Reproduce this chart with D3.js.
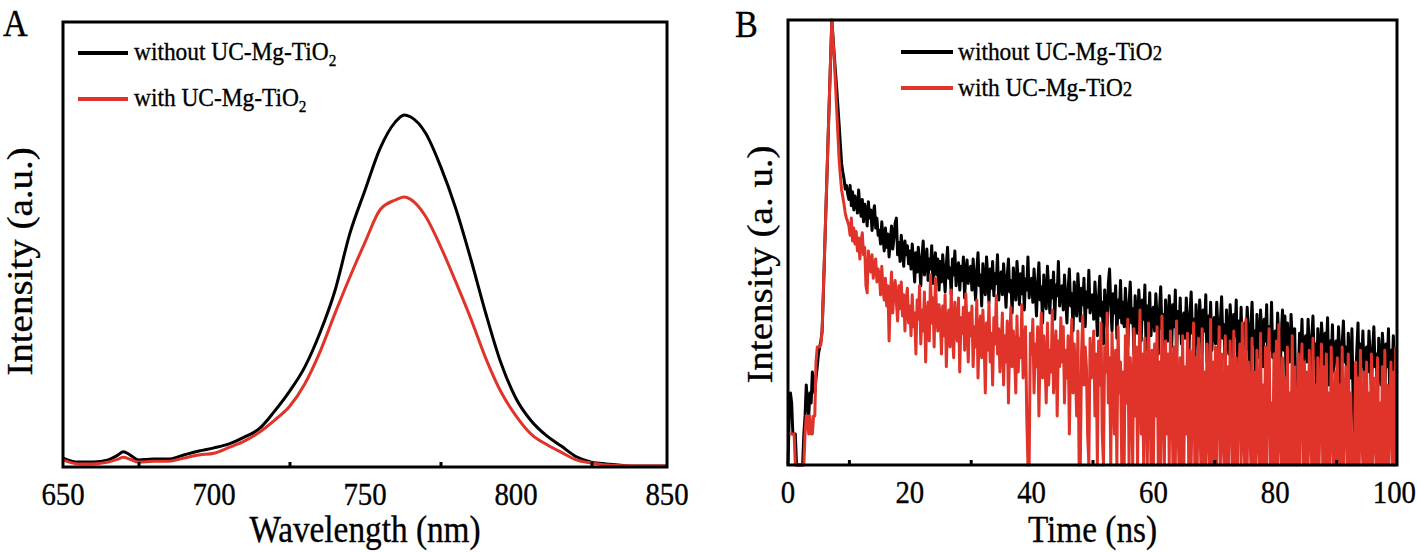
<!DOCTYPE html>
<html><head><meta charset="utf-8">
<script src="https://cdn.jsdelivr.net/npm/d3@7"></script>
<style>
body{margin:0;background:#fff}
svg{display:block}
text{font-family:"Liberation Serif","Times New Roman",serif;fill:#000;stroke:#000;stroke-width:0.35px}
</style>
</head><body>
<svg id="c" width="1417" height="552"></svg>
<script>
// ---------- Panel A data (PL spectra) ----------
const wavelength = [650,655,660,665,668,670,672,675,680,685,690,695,700,705,710,715,720,725,730,735,740,745,750,755,760,763,765,770,775,780,785,790,795,800,805,810,815,820,825,830,840,850];
const plWithout = [2.0,1.1,1.1,1.6,2.6,3.4,2.8,1.6,1.8,1.8,2.7,3.6,4.3,5.2,6.7,8.6,12.5,17.0,22.4,30.0,39.5,52.5,62.2,71.6,77.5,79.1,78.7,75.1,67.6,58.2,46.8,34.5,23.4,15.4,10.4,7.1,4.7,2.3,1.1,0.7,0.2,0.2];
const plWith = [1.6,0.7,0.7,1.1,1.7,2.2,1.8,1.1,1.3,1.3,2.0,2.7,3.1,4.4,5.8,7.8,10.5,13.6,18.6,25.7,34.4,42.7,50.5,57.8,60.0,60.7,60.2,56.4,49.6,41.7,33.4,24.4,16.9,11.5,7.4,5.1,3.3,1.6,0.9,0.45,0.2,0.2];
const xTicksA = [650,700,750,800,850];
const xMinorA = [675,725,775,825];

// ---------- Panel B data (decay counts, 0.2 ns channels from 0 ns; one row = 5 ns) ----------
const decayWithout = [
1,3,5,4,2,2,2,1,1,1,1,1,1,2,3,6,4,3,5,4,8,6,5,7,9,
12,14,16,20,45,110,270,650,1600,3800,9000,21000,14000,9500,6500,4500,3000,2000,1300,850,700,600,480,520,430,
380,520,330,450,300,410,360,280,470,320,260,380,230,340,290,210,360,250,300,190,280,330,200,250,170,
190,140,230,160,120,200,130,175,105,150,210,125,160,225,250,110,145,95,170,120,85,150,110,135,90,
120,80,140,95,60,115,75,130,88,55,105,150,70,95,125,62,100,80,135,58,90,115,70,100,50,
95,60,110,75,48,88,130,65,82,45,100,70,120,55,78,92,50,85,62,105,42,75,98,58,80,
85,50,100,62,40,78,115,55,70,35,90,60,45,105,68,38,80,52,95,44,72,58,110,40,66,
75,45,90,58,34,68,100,48,62,30,82,54,40,95,60,36,72,46,85,32,64,50,105,42,58,
65,38,80,50,28,58,92,40,54,24,70,45,33,85,52,30,62,42,75,26,56,44,95,35,50,
55,32,70,42,24,50,80,35,46,20,60,38,28,72,44,25,52,36,65,22,48,34,78,30,42,
45,26,60,35,18,42,68,28,38,15,50,31,22,58,80,36,20,46,30,55,17,40,27,62,24,
38,22,52,30,14,36,60,24,33,12,44,27,19,50,32,16,40,26,56,13,35,23,47,18,30,
34,20,46,27,12,32,54,21,29,10,40,24,16,44,28,14,36,22,50,11,31,19,42,15,26,
30,17,42,24,10,28,48,19,26,9,36,21,14,40,25,12,32,20,45,10,28,17,38,13,23,
27,15,38,21,9,25,43,17,23,8,32,19,12,36,22,10,29,18,40,9,25,15,34,12,21,
24,13,34,19,8,22,38,15,20,7,29,17,11,32,19,9,26,16,36,8,22,13,38,11,19,
20,11,30,16,7,19,32,13,28,6,24,15,10,29,17,8,21,4,2,7,19,12,26,9,16,
18,10,26,14,6,17,28,11,15,5,21,13,8,24,15,7,19,12,27,6,16,10,23,8,14,
16,9,22,12,5,15,25,10,14,5,19,11,7,21,4,2,6,13,24,6,15,9,20,7,13,
14,8,20,11,5,13,22,9,12,4,17,10,6,19,12,5,15,9,21,5,13,8,18,7,12];
const decayWith = [
2,2,2,2,2,2,1,1,1,1,1,1,1,1,2,3,3,2,3,2,2,3,3,10,14,
14,14,15,20,48,115,280,660,1600,3850,9000,21000,13500,8600,5000,2800,1600,920,640,470,400,340,280,250,230,
210,170,250,150,200,140,185,120,160,100,150,180,110,130,55,47,120,90,75,110,65,85,100,60,80,
70,45,85,50,40,65,35,55,16,42,75,30,50,62,38,25,55,33,60,28,45,20,40,52,24,
35,18,45,22,30,12,40,26,55,15,32,20,48,10,28,38,16,70,24,42,14,65,30,20,36,
28,12,35,18,45,9,25,32,14,50,20,11,38,24,16,42,8,27,19,34,13,46,22,10,30,
18,35,9,22,14,40,7,20,28,11,32,16,5,24,13,38,10,19,6,27,15,44,12,21,8,
14,30,6,18,10,25,4,16,34,9,20,12,5,28,8,17,11,36,7,15,22,3,1,1,19,
12,26,5,15,9,22,3,14,30,7,18,10,4,24,6,13,8,32,5,11,20,3,16,9,27,
10,22,4,13,7,18,2,11,26,5,15,8,3,20,1,1,12,28,6,14,9,2,1,17,7,
9,20,3,12,1,16,6,24,2,1,14,8,30,4,11,1,19,7,2,13,1,22,5,10,1,
8,1,18,4,26,1,11,6,1,21,3,14,1,9,32,2,12,1,17,5,1,24,7,1,13,
1,15,3,22,1,10,1,28,5,1,16,2,12,1,20,7,1,14,1,25,3,1,11,1,18,
1,9,2,19,1,13,1,6,24,1,11,1,17,3,1,21,1,8,1,15,2,1,26,1,10,
1,14,1,7,22,1,12,2,1,18,1,9,1,16,4,1,20,1,11,1,6,15,1,24,2,
1,26,1,10,3,1,17,1,8,1,13,2,1,19,1,6,1,14,1,9,21,1,4,1,12,
1,16,1,23,2,1,11,1,7,1,14,1,5,1,18,1,9,1,1,12,1,6,15,1,10,
1,8,1,13,2,1,17,1,6,1,11,1,4,15,1,9,1,12,1,5,1,14,2,1,8,
1,11,1,6,1,14,1,3,9,1,12,1,5,1,2,1,10,1,7,1,13,2,1,8,1,
10,1,5,1,12,1,7,2,1,11,1,4,1,9,1,13,1,6,1,3,10,1,8,1,14];
const channelWidth = 0.2;
const xTicksB = [0,20,40,60,80,100];
const xMinorB = [10,30,50,70,90];

const RED = "#e0332a";
const SX = 0.9; // horizontal glyph compression seen in the reference

const svg = d3.select("#c");

function txt(x, y, s, size, anchor, rot) {
  const t = svg.append("text")
    .attr("transform", `translate(${x},${y}) scale(${SX},1)` + (rot ? " rotate(-90)" : ""))
    .attr("font-size", size)
    .attr("text-anchor", anchor || "start");
  return t.text(s);
}

function frame(x0, y0, x1, y1) {
  svg.append("rect").attr("x", x0).attr("y", y0)
    .attr("width", x1 - x0).attr("height", y1 - y0)
    .attr("fill", "none").attr("stroke", "#000").attr("stroke-width", 3);
}

function xAxis(scale, y, majors, minors, maxX) {
  const g = svg.append("g").attr("transform", `translate(0,${y})`);
  g.call(d3.axisBottom(scale).tickValues(majors).tickSize(-9).tickFormat(""));
  g.call(d3.axisBottom(scale).tickValues(minors).tickSize(-5).tickFormat(""));
  g.selectAll(".domain").remove();
  g.selectAll("line").attr("stroke", "#000").attr("stroke-width", 3);
  majors.forEach(v => {
    const s = String(v);
    const half = s.length * 0.5 * 32 * SX / 2;
    const cx = Math.min(scale(v), maxX - half);
    txt(cx, y + 38, s, 32, "middle");
  });
}

// ---------- Panel A ----------
const A = {l: 63, r: 667, t: 22, b: 467};
const xA = d3.scaleLinear().domain([650, 850]).range([A.l, A.r]);
const yA = d3.scaleLinear().domain([0, 100]).range([A.b, A.t]);
const lineA = d3.line().x((d, i) => xA(wavelength[i])).y(d => yA(d)).curve(d3.curveMonotoneX);

svg.append("path").attr("d", lineA(plWithout)).attr("fill", "none")
  .attr("stroke", "#000").attr("stroke-width", 3).attr("stroke-linejoin", "round");
svg.append("path").attr("d", lineA(plWith)).attr("fill", "none")
  .attr("stroke", RED).attr("stroke-width", 3).attr("stroke-linejoin", "round");
frame(A.l, A.t, A.r, A.b);
xAxis(xA, A.b, xTicksA, xMinorA, 1416);
txt((A.l + A.r) / 2, 542, "Wavelength (nm)", 37, "middle");
txt(32, (A.t + A.b) / 2 + 17, "Intensity (a.u.)", 39, "middle", true);
txt(3, 36, "A", 38);

// legend A
[[53, "#000", "without UC-Mg-TiO"], [99, RED, "with UC-Mg-TiO"]].forEach(([y, c, s]) => {
  svg.append("line").attr("x1", 78).attr("x2", 128).attr("y1", y).attr("y2", y)
    .attr("stroke", c).attr("stroke-width", 4);
  const t = txt(134, y + 7, s, 26);
  t.append("tspan").attr("font-size", 17).attr("dy", 6).text("2");
});

// ---------- Panel B ----------
const B = {l: 788, r: 1397, t: 20, b: 465};
const xB = d3.scaleLinear().domain([0, 100]).range([B.l, B.r]);
const yB = d3.scaleLog().domain([1, 21000]).range([B.b, B.t]).clamp(true);
const lineB = d3.line().x((d, i) => xB(i * channelWidth)).y(d => yB(d));

svg.append("path").attr("d", lineB(decayWithout)).attr("fill", "none")
  .attr("stroke", "#000").attr("stroke-width", 3).attr("stroke-linejoin", "round");
svg.append("path").attr("d", lineB(decayWith)).attr("fill", "none")
  .attr("stroke", RED).attr("stroke-width", 3).attr("stroke-linejoin", "round");
frame(B.l, B.t, B.r, B.b);
xAxis(xB, B.b, xTicksB, xMinorB, 1416);
txt((B.l + B.r) / 2, 542, "Time (ns)", 37, "middle");
txt(772, (B.t + B.b) / 2 + 22, "Intensity (a. u.)", 39, "middle", true);
txt(735, 37, "B", 38);

// legend B
[[52, "#000", "without UC-Mg-TiO"], [88, RED, "with UC-Mg-TiO"]].forEach(([y, c, s]) => {
  svg.append("line").attr("x1", 901).attr("x2", 953).attr("y1", y).attr("y2", y)
    .attr("stroke", c).attr("stroke-width", 4);
  const t = txt(958, y + 8, s, 26);
  t.append("tspan").attr("font-size", 21).text("2");
});
</script>
</body></html>
